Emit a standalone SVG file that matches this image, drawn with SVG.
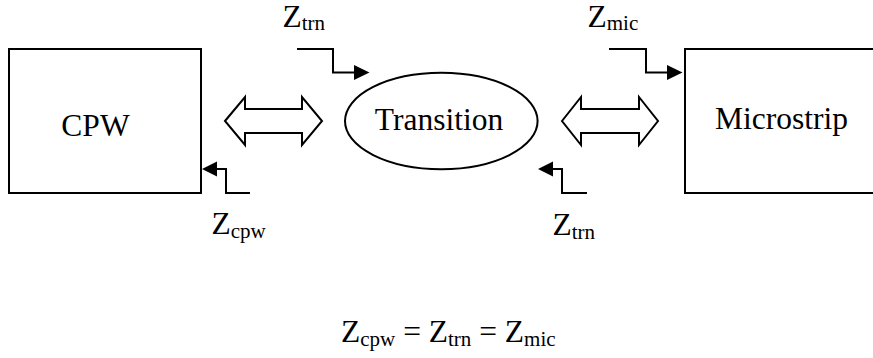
<svg xmlns="http://www.w3.org/2000/svg" width="873" height="358" viewBox="0 0 873 358">
<style>
  .box{fill:#fff;stroke:#000;stroke-width:2}
  .ln{fill:none;stroke:#000;stroke-width:2}
  .dbl{fill:#fff;stroke:#000;stroke-width:2;stroke-linejoin:miter}
  .head{fill:#000;stroke:none}
  .big{font-size:31.5px;font-family:'Liberation Serif','Times New Roman',Tinos,'DejaVu Serif',serif;fill:#000}
  .sub{font-size:21px}
</style>
<rect width="873" height="358" fill="#fff"/>
<g id="cpw">
  <rect class="box" x="9" y="49" width="192" height="144"/>
  <text class="big" x="95.5" y="136" text-anchor="middle" font-family="Liberation Serif, serif">CPW</text>
</g>
<g id="transition">
  <ellipse class="box" cx="441.3" cy="121" rx="96.3" ry="48.2"/>
  <text class="big" x="439" y="130" text-anchor="middle" font-family="Liberation Serif, serif">Transition</text>
</g>
<g id="microstrip">
  <rect class="box" x="685" y="49" width="200" height="144"/>
  <text class="big" x="715" y="128.5" font-family="Liberation Serif, serif">Microstrip</text>
</g>
<g id="connectors">
  <polygon class="dbl" points="225,121 245,97 245,109 302,109 302,97 322,121 302,145 302,133 245,133 245,145"/>
  <polygon class="dbl" points="562,121 581,97 581,109 639,109 639,97 658,121 639,145 639,133 581,133 581,145"/>
  <path class="ln" d="M297,49 H333 V72.5 H355"/>
  <polygon class="head" points="354,65 369.5,72.5 354,80"/>
  <path class="ln" d="M609,49 H646 V72.5 H668"/>
  <polygon class="head" points="667,65 682.5,72.5 667,80"/>
  <path class="ln" d="M250,193 H226 V169 H216"/>
  <polygon class="head" points="217,161.5 202,169 217,176.5"/>
  <path class="ln" d="M587,193 H562 V169 H552"/>
  <polygon class="head" points="553,161.5 538,169 553,176.5"/>
</g>
<g id="labels" font-family="Liberation Serif, serif">
  <text class="big" x="282.5" y="26.5" font-family="Liberation Serif, serif">Z<tspan class="sub" dy="3.5">trn</tspan></text>
  <text class="big" x="587.5" y="26.5" font-family="Liberation Serif, serif">Z<tspan class="sub" dy="3.5">mic</tspan></text>
  <text class="big" x="211.5" y="234" font-family="Liberation Serif, serif">Z<tspan class="sub" dy="3.5">cpw</tspan></text>
  <text class="big" x="552.5" y="235" font-family="Liberation Serif, serif">Z<tspan class="sub" dy="3.5">trn</tspan></text>
  <text class="big" x="341" y="342" font-family="Liberation Serif, serif">Z<tspan class="sub" dy="3.5">cpw</tspan><tspan dy="-3.5"> = Z</tspan><tspan class="sub" dy="3.5">trn</tspan><tspan dy="-3.5"> = Z</tspan><tspan class="sub" dy="3.5">mic</tspan></text>
</g>
</svg>
